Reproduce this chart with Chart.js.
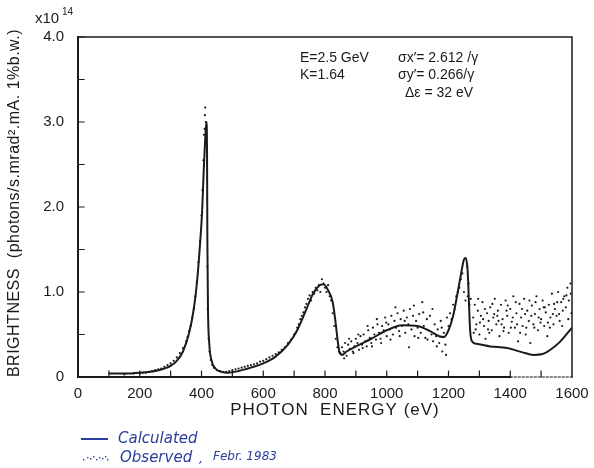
<!DOCTYPE html>
<html>
<head>
<meta charset="utf-8">
<script src="https://cdn.jsdelivr.net/npm/chart.js@4.4.1/dist/chart.umd.min.js"></script>
<style>
  html, body { margin: 0; padding: 0; background: #fff; }
  #wrap { width: 594px; height: 468px; }
</style>
</head>
<body>
<div id="wrap"><canvas id="brightChart" width="594" height="468"></canvas></div>
<script>
// calculated curve (photon energy eV / brightness x1e14)
const calcEnergy = [100,150,200,250,280,300,320,340,360,375,385,395,402,408,412,416,418,419,421,425,432,445,465,485,520,560,600,640,680,710,740,760,780,795,810,825,835,842,848,855,870,900,950,1000,1050,1100,1140,1170,1185,1200,1215,1230,1240,1250,1256,1262,1266,1270,1276,1290,1335,1390,1440,1475,1505,1530,1560,1600];
const calcBright = [0.04,0.04,0.05,0.07,0.10,0.13,0.19,0.30,0.52,0.80,1.10,1.55,1.95,2.50,2.80,3.00,2.60,1.60,0.80,0.40,0.20,0.10,0.06,0.05,0.07,0.11,0.16,0.24,0.38,0.55,0.80,0.97,1.07,1.09,1.02,0.88,0.62,0.40,0.28,0.26,0.30,0.36,0.45,0.55,0.61,0.60,0.54,0.48,0.47,0.55,0.72,1.00,1.20,1.38,1.40,1.25,0.90,0.55,0.42,0.39,0.36,0.34,0.29,0.26,0.27,0.32,0.41,0.58];

// observed points, Febr. 1983
const obsEnergy = [150,180,200,210,220,230,240,250,260,270,280,290,300,310,320,330,340,350,355,360,365,370,375,380,385,390,395,400,403,406,408,410,411,412,414,415,418,419,420,423,426,430,435,440,450,460,470,480,490,500,510,520,530,540,550,560,570,580,590,600,610,620,630,640,650,660,670,680,690,700,705,710,715,720,725,730,735,740,745,750,755,760,765,770,775,780,785,790,795,800,805,810,815,820,825,830,835,840,845,
  850,855,860,865,870,875,880,885,890,895,900,905,910,915,920,925,930,935,940,945,950,955,960,965,970,975,980,985,990,995,1000,1005,1010,1015,1020,1025,1030,1035,1040,1045,1050,1055,1060,1065,1070,1075,1080,1085,1090,1095,1100,1105,1110,1115,1120,1125,1130,1135,1140,1145,1150,1155,1160,1165,1170,1175,1180,1185,1190,1195,
  862,878,892,908,922,938,952,968,982,998,1012,1028,1042,1058,1072,1088,1102,1118,1132,1148,1162,1178,1192,
  1200,1205,1210,1215,1220,1225,1230,1235,1240,1245,1250,1255,1260,1262,1265,1268,1272,
  1280,1285,1290,1295,1300,1305,1310,1315,1320,1325,1330,1335,1340,1345,1350,1355,1360,1365,1370,1375,1380,1385,1390,1395,1400,1405,1410,1415,1420,1425,1430,1435,1440,1445,1450,1455,1460,1465,1470,1475,1480,1485,1490,1495,1500,1505,1510,1515,1520,1525,1530,1535,1540,1545,1550,1555,1560,1565,1570,1575,1580,1585,1590,1595,1598,
  1288,1302,1318,1332,1348,1362,1378,1392,1408,1422,1438,1452,1468,1482,1498,1512,1528,1542,1558,1572,1588,
  1282,1296,1312,1328,1342,1358,1372,1388,1402,1418,1432,1448,1462,1478,1492,1508,1522,1538,1552,1568,1582,1596];
const obsBright = [0.03,0.04,0.04,0.05,0.05,0.06,0.07,0.08,0.09,0.10,0.12,0.14,0.16,0.19,0.23,0.28,0.34,0.42,0.47,0.54,0.60,0.70,0.80,0.95,1.12,1.35,1.60,1.90,2.20,2.55,2.85,2.92,3.08,3.17,3.00,2.95,2.10,1.30,0.80,0.45,0.30,0.20,0.14,0.11,0.08,0.07,0.06,0.06,0.07,0.08,0.09,0.10,0.11,0.12,0.13,0.14,0.15,0.16,0.18,0.19,0.21,0.23,0.25,0.27,0.29,0.32,0.35,0.40,0.44,0.50,0.52,0.58,0.62,0.68,0.72,0.76,0.82,0.86,0.92,0.96,0.90,1.00,0.98,1.05,1.02,1.08,1.00,1.15,1.10,1.05,1.00,1.08,0.95,0.90,0.75,0.60,0.45,0.35,0.30,
  0.28,0.35,0.30,0.40,0.25,0.38,0.33,0.42,0.30,0.36,0.45,0.40,0.32,0.48,0.38,0.50,0.42,0.36,0.55,0.46,0.40,0.58,0.50,0.44,0.62,0.52,0.45,0.60,0.55,0.70,0.48,0.62,0.56,0.72,0.50,0.66,0.58,0.75,0.54,0.68,0.60,0.78,0.52,0.70,0.62,0.80,0.56,0.72,0.48,0.66,0.58,0.74,0.52,0.88,0.60,0.46,0.68,0.55,0.72,0.50,0.42,0.62,0.48,0.56,0.40,0.66,0.30,0.52,0.38,0.70,
  0.22,0.45,0.28,0.50,0.34,0.60,0.36,0.68,0.40,0.64,0.44,0.82,0.48,0.66,0.35,0.84,0.46,0.76,0.44,0.80,0.36,0.58,0.26,
  0.60,0.75,0.68,0.85,0.80,0.95,1.00,1.05,1.15,1.22,1.00,0.90,1.30,0.95,1.10,0.85,0.92,
  0.70,0.85,0.62,0.78,0.50,0.72,0.88,0.60,0.45,0.75,0.66,0.82,0.55,0.70,0.92,0.62,0.78,0.48,0.85,0.68,0.58,0.90,0.72,0.52,0.80,0.65,0.95,0.58,0.75,0.42,0.86,0.70,0.60,0.92,0.50,0.78,0.66,0.40,0.84,0.62,0.74,0.95,0.55,0.80,0.68,0.90,0.60,0.76,0.48,0.85,0.70,0.98,0.62,0.80,0.72,1.00,0.66,0.88,0.78,0.95,0.82,1.05,0.90,1.10,0.75,
  0.56,0.64,0.80,0.52,0.74,0.66,0.54,0.84,0.70,0.62,0.80,0.58,0.72,0.88,0.64,0.82,0.58,0.86,0.74,0.92,0.68,
  0.52,0.92,0.68,0.56,0.86,0.72,0.62,0.78,0.58,0.88,0.52,0.74,0.90,0.58,0.70,0.82,0.64,0.74,0.88,0.60,0.96,0.98];

const xMin = 0, xMax = 1600, xLabelStep = 200, xTickStep = 100;
const yMin = 0, yMax = 4, yLabelStep = 1, yTickStep = 0.5;

const ink = '#1b1b1b';
const blue = '#2a3f9a';

const calcPts = calcEnergy.map((x, i) => ({ x: x, y: calcBright[i] }));
const obsPts = obsEnergy.map((x, i) => ({ x: x, y: obsBright[i] }));

// 軸の枠と内向き目盛り、注記、凡例
const decoPlugin = {
    id: 'deco',
    afterDraw(chart) {
        const ctx = chart.ctx;
        const a = chart.chartArea;
        const xs = chart.scales.x, ys = chart.scales.y;
        ctx.save();
        ctx.strokeStyle = ink;
        ctx.lineCap = 'square';

        // frame
        ctx.lineWidth = 2;
        ctx.beginPath();
        ctx.moveTo(a.left, a.top); ctx.lineTo(a.left, a.bottom);
        ctx.lineTo(xs.getPixelForValue(1400), a.bottom);
        ctx.stroke();
        ctx.lineWidth = 1.5;
        ctx.beginPath();
        ctx.moveTo(a.left, a.top); ctx.lineTo(a.right, a.top); ctx.lineTo(a.right, a.bottom);
        ctx.stroke();
        ctx.setLineDash([2, 2]);
        ctx.lineWidth = 1.2;
        ctx.beginPath();
        ctx.moveTo(xs.getPixelForValue(1400), a.bottom); ctx.lineTo(a.right, a.bottom);
        ctx.stroke();
        ctx.setLineDash([]);

        // inward ticks
        ctx.lineWidth = 1.2;
        ctx.beginPath();
        for (let v = xMin + xTickStep; v < xMax; v += xTickStep) {
            const px = xs.getPixelForValue(v);
            ctx.moveTo(px, a.bottom); ctx.lineTo(px, a.bottom - 6);
        }
        for (let v = yMin + yTickStep; v <= yMax; v += yTickStep) {
            const py = ys.getPixelForValue(v);
            ctx.moveTo(a.left, py); ctx.lineTo(a.left + 6, py);
        }
        ctx.stroke();

        ctx.fillStyle = ink;
        ctx.textBaseline = 'middle';

        // x10^14
        ctx.font = '15px "Liberation Sans", sans-serif';
        ctx.textAlign = 'left';
        ctx.fillText('x10', 35, 19);
        ctx.font = '10px "Liberation Sans", sans-serif';
        ctx.fillText('14', 62, 12);

        // axis titles
        ctx.font = '17px "Liberation Sans", sans-serif';
        ctx.textAlign = 'center';
        ctx.letterSpacing = '1px';
        ctx.fillText('PHOTON  ENERGY (eV)', (a.left + a.right) / 2 + 10, 410);
        ctx.save();
        ctx.translate(15, 203);
        ctx.rotate(-Math.PI / 2);
        ctx.font = '16px "Liberation Sans", sans-serif';
        ctx.letterSpacing = '0.5px';
        ctx.fillText('BRIGHTNESS  (photons/s.mrad\u00b2.mA. 1%b.w.)', 0, 0);
        ctx.restore();
        ctx.letterSpacing = '0px';

        // parameters
        ctx.font = '14px "Liberation Sans", sans-serif';
        ctx.textAlign = 'left';
        ctx.fillText('E=2.5 GeV', 300, 58);
        ctx.fillText('K=1.64', 300, 75);
        ctx.fillText('\u03c3x\u2032= 2.612 /\u03b3', 398, 58);
        ctx.fillText('\u03c3y\u2032= 0.266/\u03b3', 398, 75);
        ctx.fillText('\u0394\u03b5 = 32 eV', 405, 93);

        // legend
        ctx.strokeStyle = blue;
        ctx.fillStyle = blue;
        ctx.lineWidth = 2;
        ctx.beginPath();
        ctx.moveTo(82, 439); ctx.lineTo(107, 439);
        ctx.stroke();
        const dotsX = [83, 87, 90, 93, 96, 99, 102, 105, 107];
        const dotsY = [459, 457, 458, 456, 459, 457, 458, 456, 459];
        dotsX.forEach((dx, i) => ctx.fillRect(dx, dotsY[i], 1.4, 1.4));
        ctx.font = 'italic 15px "DejaVu Sans", sans-serif';
        ctx.fillText('Calculated', 118, 439);
        ctx.fillText('Observed', 120, 458);
        ctx.font = 'italic 12px "DejaVu Sans", sans-serif';
        ctx.fillText(',', 199, 460);
        ctx.fillText('Febr. 1983', 213, 457);
        ctx.restore();
    }
};

const chart = new Chart(document.getElementById('brightChart'), {
    type: 'scatter',
    data: {
        datasets: [
            {
                label: 'Calculated',
                data: calcPts,
                showLine: true,
                borderColor: ink,
                borderWidth: 2,
                pointRadius: 0,
                cubicInterpolationMode: 'monotone'
            },
            {
                label: 'Observed',
                data: obsPts,
                showLine: false,
                pointRadius: 1.1,
                pointBorderWidth: 0,
                backgroundColor: ink
            }
        ]
    },
    options: {
        responsive: false,
        animation: false,
        devicePixelRatio: 1,
        layout: { padding: { top: 37, right: 22, left: 0, bottom: 0 } },
        plugins: { legend: { display: false }, tooltip: { enabled: false } },
        scales: {
            x: {
                type: 'linear', min: xMin, max: xMax,
                grid: { display: false },
                border: { display: false },
                ticks: {
                    stepSize: xLabelStep, padding: 0, color: ink,
                    font: { family: '"Liberation Sans", sans-serif', size: 15 },
                    maxRotation: 0,
                    callback: (v) => String(v)
                },
                afterFit: (s) => { s.height = 91; }
            },
            y: {
                type: 'linear', min: yMin, max: yMax,
                grid: { display: false },
                border: { display: false },
                ticks: {
                    stepSize: yLabelStep, padding: 6, color: ink,
                    font: { family: '"Liberation Sans", sans-serif', size: 15 },
                    callback: (v) => v === 0 ? '0' : v.toFixed(1)
                },
                afterFit: (s) => { s.width = 78; }
            }
        }
    },
    plugins: [decoPlugin]
});
</script>
</body>
</html>
